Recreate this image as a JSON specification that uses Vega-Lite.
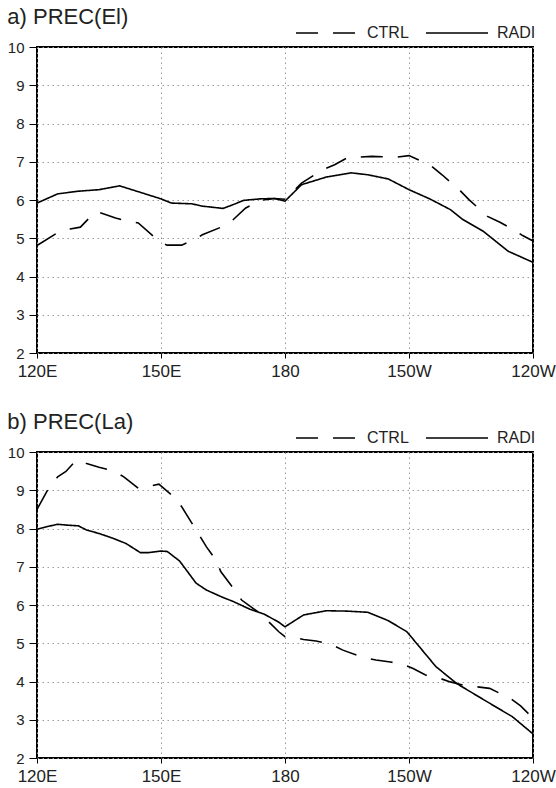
{
  "$schema": "https://vega.github.io/schema/vega-lite/v6.json",
  "background": "white",
  "padding": {"left": 6, "top": 0, "right": 0, "bottom": 0},
  "spacing": 25,
  "config": {
    "font": "Liberation Sans",
    "view": {"stroke": "black", "strokeWidth": 2},
    "axis": {
      "labelFont": "Liberation Sans", "labelColor": "#222", "tickColor": "black", "domain": false,
      "gridColor": "#999", "gridDash": [1.5, 3.5], "gridWidth": 1
    },
    "title": {"font": "Liberation Sans", "fontWeight": "normal", "fontSize": 22, "color": "#222", "anchor": "start", "offset": -28},
    "legend": {"labelFont": "Liberation Sans", "labelFontSize": 16, "labelColor": "#222"}
  },
  "datasets": {
    "el": [
      {"lon": 120, "series": "RADI", "value": 5.92}, {"lon": 125, "series": "RADI", "value": 6.16}, {"lon": 130, "series": "RADI", "value": 6.23}, {"lon": 135, "series": "RADI", "value": 6.27}, {"lon": 140, "series": "RADI", "value": 6.37}, {"lon": 145, "series": "RADI", "value": 6.2}, {"lon": 150, "series": "RADI", "value": 6.03}, {"lon": 152.5, "series": "RADI", "value": 5.92}, {"lon": 157.5, "series": "RADI", "value": 5.9}, {"lon": 160, "series": "RADI", "value": 5.84}, {"lon": 165, "series": "RADI", "value": 5.78}, {"lon": 167.5, "series": "RADI", "value": 5.88}, {"lon": 170, "series": "RADI", "value": 5.99}, {"lon": 174, "series": "RADI", "value": 6.03}, {"lon": 177.5, "series": "RADI", "value": 6.04}, {"lon": 180, "series": "RADI", "value": 5.97}, {"lon": 184, "series": "RADI", "value": 6.4}, {"lon": 190, "series": "RADI", "value": 6.6}, {"lon": 196, "series": "RADI", "value": 6.71}, {"lon": 200, "series": "RADI", "value": 6.66}, {"lon": 205, "series": "RADI", "value": 6.55}, {"lon": 210, "series": "RADI", "value": 6.27}, {"lon": 215, "series": "RADI", "value": 6.03}, {"lon": 220, "series": "RADI", "value": 5.75}, {"lon": 223, "series": "RADI", "value": 5.49}, {"lon": 228, "series": "RADI", "value": 5.18}, {"lon": 231, "series": "RADI", "value": 4.92}, {"lon": 234, "series": "RADI", "value": 4.66}, {"lon": 240, "series": "RADI", "value": 4.37},
      {"lon": 120, "series": "CTRL", "value": 4.81}, {"lon": 125.5, "series": "CTRL", "value": 5.18}, {"lon": 128, "series": "CTRL", "value": 5.24}, {"lon": 130.5, "series": "CTRL", "value": 5.29}, {"lon": 134, "series": "CTRL", "value": 5.68}, {"lon": 135.5, "series": "CTRL", "value": 5.66}, {"lon": 139, "series": "CTRL", "value": 5.53}, {"lon": 142, "series": "CTRL", "value": 5.44}, {"lon": 144.5, "series": "CTRL", "value": 5.4}, {"lon": 150, "series": "CTRL", "value": 4.88}, {"lon": 151.5, "series": "CTRL", "value": 4.82}, {"lon": 155, "series": "CTRL", "value": 4.82}, {"lon": 158, "series": "CTRL", "value": 4.96}, {"lon": 160, "series": "CTRL", "value": 5.09}, {"lon": 165, "series": "CTRL", "value": 5.31}, {"lon": 167, "series": "CTRL", "value": 5.44}, {"lon": 170.5, "series": "CTRL", "value": 5.79}, {"lon": 174, "series": "CTRL", "value": 5.99}, {"lon": 177.5, "series": "CTRL", "value": 6.04}, {"lon": 180, "series": "CTRL", "value": 6.02}, {"lon": 184, "series": "CTRL", "value": 6.44}, {"lon": 189, "series": "CTRL", "value": 6.79}, {"lon": 192, "series": "CTRL", "value": 6.92}, {"lon": 195, "series": "CTRL", "value": 7.1}, {"lon": 197.5, "series": "CTRL", "value": 7.12}, {"lon": 201, "series": "CTRL", "value": 7.14}, {"lon": 207, "series": "CTRL", "value": 7.12}, {"lon": 210, "series": "CTRL", "value": 7.16}, {"lon": 215, "series": "CTRL", "value": 6.92}, {"lon": 218, "series": "CTRL", "value": 6.66}, {"lon": 222.5, "series": "CTRL", "value": 6.23}, {"lon": 224.5, "series": "CTRL", "value": 6.01}, {"lon": 229, "series": "CTRL", "value": 5.57}, {"lon": 232, "series": "CTRL", "value": 5.42}, {"lon": 235, "series": "CTRL", "value": 5.24}, {"lon": 237.5, "series": "CTRL", "value": 5.07}, {"lon": 240, "series": "CTRL", "value": 4.93}
    ],
    "la": [
      {"lon": 120, "series": "RADI", "value": 7.98}, {"lon": 122.5, "series": "RADI", "value": 8.05}, {"lon": 125, "series": "RADI", "value": 8.11}, {"lon": 127, "series": "RADI", "value": 8.09}, {"lon": 130, "series": "RADI", "value": 8.07}, {"lon": 132, "series": "RADI", "value": 7.96}, {"lon": 135, "series": "RADI", "value": 7.87}, {"lon": 138.5, "series": "RADI", "value": 7.74}, {"lon": 141.5, "series": "RADI", "value": 7.61}, {"lon": 145, "series": "RADI", "value": 7.37}, {"lon": 147, "series": "RADI", "value": 7.37}, {"lon": 150, "series": "RADI", "value": 7.41}, {"lon": 151.5, "series": "RADI", "value": 7.4}, {"lon": 154.5, "series": "RADI", "value": 7.15}, {"lon": 158.5, "series": "RADI", "value": 6.57}, {"lon": 161, "series": "RADI", "value": 6.39}, {"lon": 164.5, "series": "RADI", "value": 6.22}, {"lon": 167.5, "series": "RADI", "value": 6.09}, {"lon": 171.5, "series": "RADI", "value": 5.89}, {"lon": 175, "series": "RADI", "value": 5.76}, {"lon": 178.5, "series": "RADI", "value": 5.55}, {"lon": 180, "series": "RADI", "value": 5.43}, {"lon": 184.5, "series": "RADI", "value": 5.74}, {"lon": 190, "series": "RADI", "value": 5.85}, {"lon": 195, "series": "RADI", "value": 5.84}, {"lon": 200, "series": "RADI", "value": 5.81}, {"lon": 205, "series": "RADI", "value": 5.59}, {"lon": 209.5, "series": "RADI", "value": 5.3}, {"lon": 213.5, "series": "RADI", "value": 4.78}, {"lon": 216.5, "series": "RADI", "value": 4.39}, {"lon": 221.5, "series": "RADI", "value": 3.95}, {"lon": 225.5, "series": "RADI", "value": 3.69}, {"lon": 230, "series": "RADI", "value": 3.4}, {"lon": 235, "series": "RADI", "value": 3.08}, {"lon": 240, "series": "RADI", "value": 2.63},
      {"lon": 120, "series": "CTRL", "value": 8.5}, {"lon": 123, "series": "CTRL", "value": 9.09}, {"lon": 125, "series": "CTRL", "value": 9.35}, {"lon": 127, "series": "CTRL", "value": 9.49}, {"lon": 129.5, "series": "CTRL", "value": 9.79}, {"lon": 132, "series": "CTRL", "value": 9.7}, {"lon": 135, "series": "CTRL", "value": 9.6}, {"lon": 138.5, "series": "CTRL", "value": 9.51}, {"lon": 141, "series": "CTRL", "value": 9.35}, {"lon": 144.5, "series": "CTRL", "value": 9.05}, {"lon": 146, "series": "CTRL", "value": 9.07}, {"lon": 149.5, "series": "CTRL", "value": 9.16}, {"lon": 153.5, "series": "CTRL", "value": 8.79}, {"lon": 155, "series": "CTRL", "value": 8.57}, {"lon": 158.5, "series": "CTRL", "value": 7.96}, {"lon": 161, "series": "CTRL", "value": 7.52}, {"lon": 163, "series": "CTRL", "value": 7.22}, {"lon": 164.5, "series": "CTRL", "value": 6.87}, {"lon": 167.5, "series": "CTRL", "value": 6.44}, {"lon": 169.5, "series": "CTRL", "value": 6.13}, {"lon": 174, "series": "CTRL", "value": 5.78}, {"lon": 178.5, "series": "CTRL", "value": 5.3}, {"lon": 180, "series": "CTRL", "value": 5.17}, {"lon": 182, "series": "CTRL", "value": 5.16}, {"lon": 184.5, "series": "CTRL", "value": 5.1}, {"lon": 187.5, "series": "CTRL", "value": 5.06}, {"lon": 191, "series": "CTRL", "value": 4.98}, {"lon": 194, "series": "CTRL", "value": 4.82}, {"lon": 199, "series": "CTRL", "value": 4.63}, {"lon": 202, "series": "CTRL", "value": 4.56}, {"lon": 205.5, "series": "CTRL", "value": 4.51}, {"lon": 208.5, "series": "CTRL", "value": 4.45}, {"lon": 211, "series": "CTRL", "value": 4.34}, {"lon": 214, "series": "CTRL", "value": 4.17}, {"lon": 217, "series": "CTRL", "value": 4.1}, {"lon": 220, "series": "CTRL", "value": 3.99}, {"lon": 223, "series": "CTRL", "value": 3.91}, {"lon": 226.5, "series": "CTRL", "value": 3.86}, {"lon": 229.5, "series": "CTRL", "value": 3.82}, {"lon": 234.5, "series": "CTRL", "value": 3.56}, {"lon": 237, "series": "CTRL", "value": 3.36}, {"lon": 240, "series": "CTRL", "value": 3.04}
    ]
  },
  "resolve": {"legend": {"strokeDash": "independent"}},
  "vconcat": [
    {
      "title": {"text": "a) PREC(El)"},
      "width": 496, "height": 306,
      "data": {"name": "el"},
      "mark": {"type": "line", "color": "black", "strokeWidth": 1.6},
      "encoding": {
        "x": {"field": "lon", "type": "quantitative",
          "scale": {"domain": [120, 240], "nice": false, "zero": false},
          "axis": {"title": null, "values": [120, 150, 180, 210, 240], "labelFontSize": 17, "tickSize": 5, "labelPadding": 5,
            "labelExpr": "datum.value == 120 ? '120E' : datum.value == 150 ? '150E' : datum.value == 180 ? '180' : datum.value == 210 ? '150W' : '120W'",
            "labelFlush": false}},
        "y": {"field": "value", "type": "quantitative",
          "scale": {"domain": [2, 10], "nice": false, "zero": false},
          "axis": {"title": null, "values": [2, 3, 4, 5, 6, 7, 8, 9, 10], "labelFontSize": 15, "tickSize": 8, "labelPadding": 5, "labelFlush": false}},
        "strokeDash": {"field": "series", "type": "nominal",
          "scale": {"domain": ["CTRL", "RADI"], "range": [[22, 15], [1, 0]]},
          "legend": {"title": null, "orient": "none", "direction": "horizontal", "legendX": 258, "legendY": -46,
            "symbolType": "stroke", "symbolSize": 3844, "symbolStrokeWidth": 1.6, "symbolStrokeColor": "black", "labelOffset": 8, "columnPadding": 13}}
      }
    },
    {
      "title": {"text": "b) PREC(La)"},
      "width": 496, "height": 306,
      "data": {"name": "la"},
      "mark": {"type": "line", "color": "black", "strokeWidth": 1.6},
      "encoding": {
        "x": {"field": "lon", "type": "quantitative",
          "scale": {"domain": [120, 240], "nice": false, "zero": false},
          "axis": {"title": null, "values": [120, 150, 180, 210, 240], "labelFontSize": 17, "tickSize": 5, "labelPadding": 5,
            "labelExpr": "datum.value == 120 ? '120E' : datum.value == 150 ? '150E' : datum.value == 180 ? '180' : datum.value == 210 ? '150W' : '120W'",
            "labelFlush": false}},
        "y": {"field": "value", "type": "quantitative",
          "scale": {"domain": [2, 10], "nice": false, "zero": false},
          "axis": {"title": null, "values": [2, 3, 4, 5, 6, 7, 8, 9, 10], "labelFontSize": 15, "tickSize": 8, "labelPadding": 5, "labelFlush": false}},
        "strokeDash": {"field": "series", "type": "nominal",
          "scale": {"domain": ["CTRL", "RADI"], "range": [[22, 15], [1, 0]]},
          "legend": {"title": null, "orient": "none", "direction": "horizontal", "legendX": 258, "legendY": -46,
            "symbolType": "stroke", "symbolSize": 3844, "symbolStrokeWidth": 1.6, "symbolStrokeColor": "black", "labelOffset": 8, "columnPadding": 13}}
      }
    }
  ]
}
